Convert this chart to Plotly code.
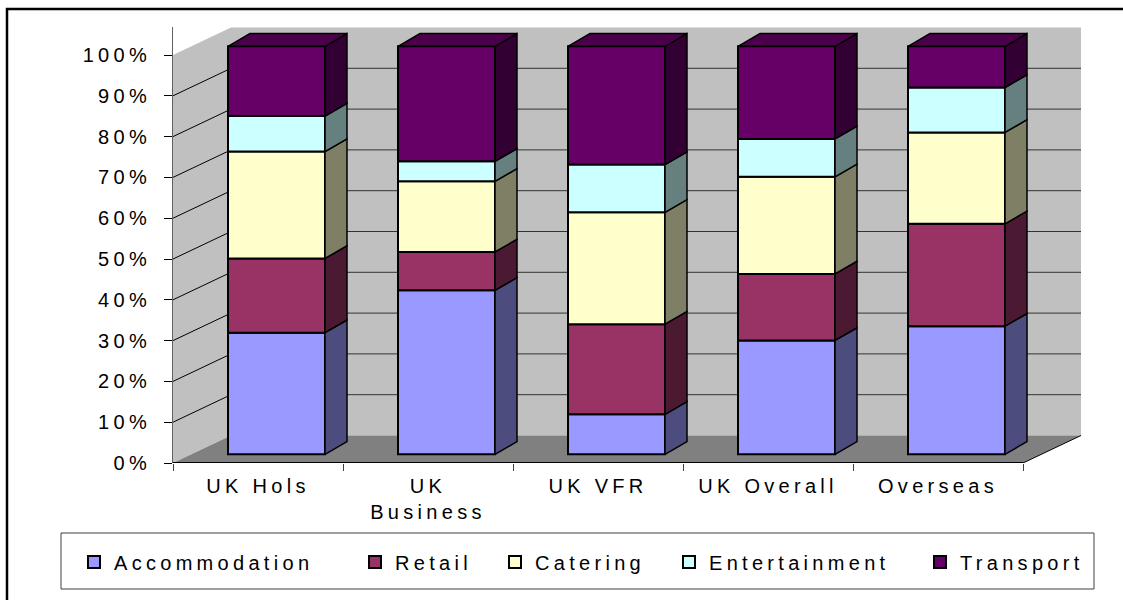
import plotly.graph_objects as go

# ---------------- data ----------------
categories = ["UK Hols", "UK Business", "UK VFR", "UK Overall", "Overseas"]
category_labels = ["UK Hols", "UK|Business", "UK VFR", "UK Overall", "Overseas"]
series_names = ["Accommodation", "Retail", "Catering", "Entertainment", "Transport"]
accommodation = [29.8, 40.2, 9.8, 27.9, 31.4]
retail = [18.2, 9.4, 22.1, 16.3, 25.1]
catering = [26.2, 17.3, 27.4, 23.8, 22.4]
entertainment = [8.7, 4.9, 11.7, 9.3, 11.0]
transport = [17.1, 28.2, 29.0, 22.7, 10.1]
y_tick_values = [0, 10, 20, 30, 40, 50, 60, 70, 80, 90, 100]
y_tick_labels = ["0%", "10%", "20%", "30%", "40%", "50%", "60%", "70%", "80%", "90%", "100%"]

series_values = [accommodation, retail, catering, entertainment, transport]

# ---------------- styles ----------------
front_colors = ["#9999FF", "#993366", "#FFFFCC", "#CCFFFF", "#660066"]
side_colors = ["#4C4C7F", "#4C1933", "#7F7F66", "#667F7F", "#330033"]
top_colors = ["#7272BF", "#72264C", "#BFBF99", "#99BFBF", "#4C004C"]

FONT = "Liberation Sans, Arial, sans-serif"
FS = 20
LS = 4.3


def spaced(t):
    return "<br>".join(
        f'<span style="letter-spacing:{LS}px">{part}</span>' for part in t.split("|")
    )


# geometry (axis units)
W, H = 1123, 600
ML, MT, PW, PH = 173, 27, 910, 436
PX_CAT = 170.0
PX_PCT = 4.08
X0 = -0.5
X1 = X0 + PW / PX_CAT
Y1 = PH / PX_PCT
DDX, DDY = 58 / PX_CAT, 27.5 / PX_PCT          # wall depth
SHIFT, BASE0, BW = 18.5 / PX_CAT, 8.7 / PX_PCT, 97 / PX_CAT
SDX, SDY = 22 / PX_CAT, 12.7 / PX_PCT           # bar depth
N = len(categories)


def px_x(p):
    return (p - ML) / PW


def px_y(p):
    return (MT + PH - p) / PH


fig = go.Figure()

# ---------- walls / floor (below traces) ----------
shapes = []
left, right = X0, X0 + N
shapes.append(dict(type="path", layer="below", xref="x", yref="y",
                   path=f"M{left},{0} L{left + DDX},{DDY} L{left + DDX},{100 + DDY} L{left},{100} Z",
                   fillcolor="#C0C0C0", line=dict(width=0)))
shapes.append(dict(type="path", layer="below", xref="x", yref="y",
                   path=f"M{left + DDX},{DDY} L{right + DDX},{DDY} L{right + DDX},{100 + DDY} L{left + DDX},{100 + DDY} Z",
                   fillcolor="#C0C0C0", line=dict(width=0)))
shapes.append(dict(type="path", layer="below", xref="x", yref="y",
                   path=f"M{left},{0} L{right},{0} L{right + DDX},{DDY} L{left + DDX},{DDY} Z",
                   fillcolor="#808080", line=dict(width=0)))
for v in y_tick_values[1:-1]:
    shapes.append(dict(type="line", layer="below", xref="x", yref="y",
                       x0=left + DDX, x1=right + DDX, y0=v + DDY, y1=v + DDY,
                       line=dict(color="#333333", width=1)))
    shapes.append(dict(type="line", layer="below", xref="x", yref="y",
                       x0=left, x1=left + DDX, y0=v, y1=v + DDY,
                       line=dict(color="#000000", width=1)))
shapes.append(dict(type="line", layer="below", xref="x", yref="y",
                   x0=right, x1=right + DDX, y0=0, y1=DDY,
                   line=dict(color="#000000", width=1)))
shapes.append(dict(type="line", layer="below", xref="x", yref="y",
                   x0=left, x1=right, y0=0, y1=0,
                   line=dict(color="#000000", width=2)))

# ---------- bars ----------
cum = [BASE0] * N
xs = [i + SHIFT for i in range(N)]
for k, (name, vals) in enumerate(zip(series_names, series_values)):
    bases = list(cum)
    fig.add_trace(go.Bar(
        x=xs, y=vals, base=bases, width=BW, name=spaced(name),
        marker=dict(color=front_colors[k], line=dict(color="#000000", width=2)),
        legend="legend" if k == 0 else f"legend{k + 1}",
        hoverinfo="skip",
    ))
    sx, sy = [], []
    for i in range(N):
        xr = xs[i] + BW / 2
        b, t = bases[i], bases[i] + vals[i]
        sx += [xr, xr + SDX, xr + SDX, xr, xr, None]
        sy += [b, b + SDY, t + SDY, t, b, None]
    fig.add_trace(go.Scatter(x=sx, y=sy, mode="lines", fill="toself",
                             fillcolor=side_colors[k],
                             line=dict(color="#000000", width=1.5),
                             showlegend=False, hoverinfo="skip"))
    cum = [bases[i] + vals[i] for i in range(N)]

# top faces
tx, ty = [], []
for i in range(N):
    xl, xr = xs[i] - BW / 2, xs[i] + BW / 2
    T = cum[i]
    tx += [xl, xr, xr + SDX, xl + SDX, xl, None]
    ty += [T, T, T + SDY, T + SDY, T, None]
fig.add_trace(go.Scatter(x=tx, y=ty, mode="lines", fill="toself",
                         fillcolor=top_colors[-1],
                         line=dict(color="#000000", width=1.5),
                         showlegend=False, hoverinfo="skip"))

# ---------- legend & frames ----------
key_centers = [94, 375, 515, 689, 940]
legends = {}
for k, kc in enumerate(key_centers):
    key = "legend" if k == 0 else f"legend{k + 1}"
    legends[key] = dict(x=px_x(kc - 20), xanchor="left", y=px_y(562), yanchor="middle",
                        orientation="h", bgcolor="rgba(0,0,0,0)", borderwidth=0,
                        font=dict(family=FONT, size=FS, color="#000000"))

shapes.append(dict(type="rect", xref="paper", yref="paper",
                   x0=px_x(61), x1=px_x(1094), y0=px_y(589), y1=px_y(533),
                   line=dict(color="#404040", width=1)))
shapes.append(dict(type="rect", xref="paper", yref="paper",
                   x0=px_x(7), x1=px_x(1140), y0=px_y(620), y1=px_y(9),
                   line=dict(color="#000000", width=2.5)))

fig.update_layout(
    width=W, height=H,
    margin=dict(l=ML, r=W - ML - PW, t=MT, b=H - MT - PH),
    paper_bgcolor="#FFFFFF", plot_bgcolor="#FFFFFF",
    font=dict(family=FONT, size=FS, color="#000000"),
    barmode="overlay",
    shapes=shapes,
    **legends,
    xaxis=dict(range=[X0, X1], showgrid=False, zeroline=False, showline=False,
               tickmode="array", tickvals=list(range(N)),
               ticktext=[spaced(c) for c in category_labels],
               ticks="", ticklabelstandoff=9,
               minor=dict(tickmode="linear", tick0=-0.5, dtick=1, ticks="outside",
                          ticklen=7, tickcolor="#404040", tickwidth=1),
               fixedrange=True),
    yaxis=dict(range=[0, Y1], showgrid=False, zeroline=False,
               showline=True, linecolor="#606060", linewidth=1,
               tickmode="array", tickvals=y_tick_values,
               ticktext=[spaced(t) for t in y_tick_labels],
               ticks="outside", ticklen=8, tickcolor="#000000", tickwidth=1,
               ticklabelstandoff=9, fixedrange=True),
    showlegend=True,
)

fig.write_html("out.html", config={"displayModeBar": False})
